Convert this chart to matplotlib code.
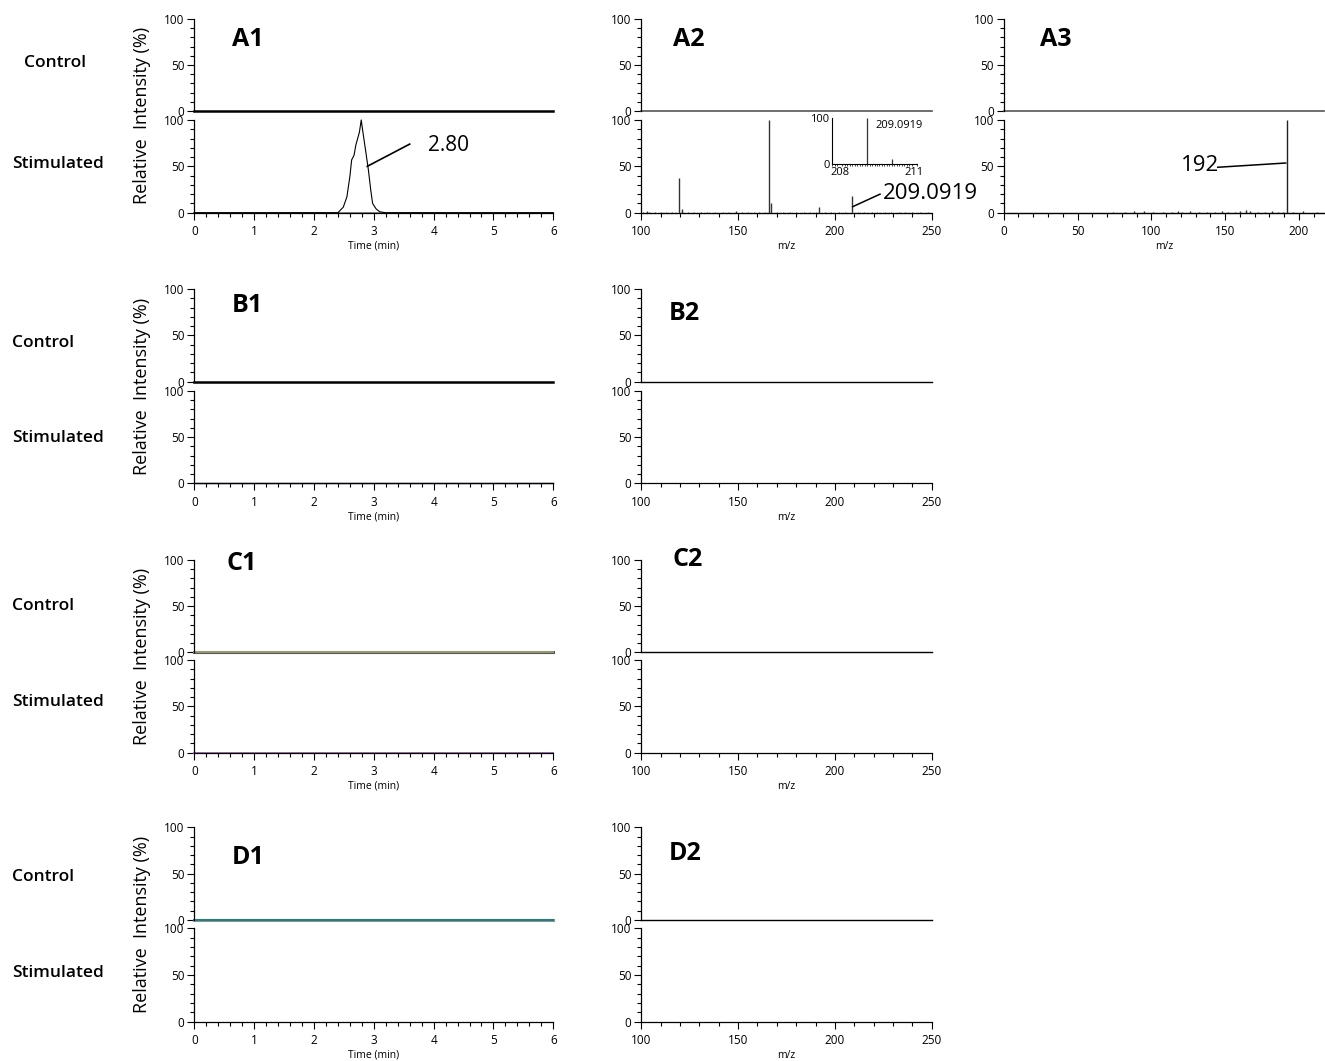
import matplotlib
matplotlib.use("Agg")
import matplotlib.pyplot as plt
from matplotlib.ticker import MultipleLocator

plt.rcParams['font.family'] = ['Open Sans', 'DejaVu Sans']

# ---- data ----
# flat traces (min / %)
flat_time = [0, 6]
flat_int = [0, 0]
flat_mz = [100, 250]
flat_mz3 = [0, 217]

# A1 stimulated chromatogram
a1_time = [0, 2.40, 2.49, 2.55, 2.60, 2.63, 2.67, 2.70, 2.76, 2.79, 2.82, 2.87,
           2.91, 2.95, 2.98, 3.04, 3.10, 3.19, 6.0]
a1_int = [0, 0, 6, 17, 39, 57, 62, 73, 87, 100, 86, 64, 46, 24, 10, 4, 1, 0, 0]

# A2 stimulated spectrum (m/z, %)
a2_mz = [102.8, 119.6, 121.0, 148.9, 166.0, 167.0, 192.0, 209.09]
a2_int = [2, 37, 4, 2, 100, 11, 6.5, 18]
a2_noise_mz = [101, 104, 107, 110, 113, 116, 124, 127, 131, 134, 138, 142, 145,
               152, 155, 158, 161, 164, 170, 173, 177, 180, 184, 187, 190, 195,
               198, 202, 205, 212, 215, 219, 222, 226, 229, 233, 236, 240, 244, 248]
a2_noise_int = [0.8, 1.0, 0.7, 0.9, 0.6, 1.1, 0.8, 0.7, 1.0, 0.6, 0.9, 0.8, 1.2,
                0.7, 0.9, 0.6, 1.0, 0.8, 0.9, 0.7, 1.1, 0.6, 0.8, 1.0, 0.7, 0.9,
                0.6, 0.8, 1.0, 1.2, 0.7, 0.9, 0.6, 0.8, 1.0, 0.7, 0.9, 0.6, 0.8, 0.7]

# A2 inset (zoom around 209)
inset_mz = [209.0919, 210.09, 208.3, 208.6, 209.5, 209.8, 210.4, 210.8]
inset_int = [100, 11, 1, 1, 1, 1, 1, 1]

# A3 stimulated spectrum
a3_mz = [192, 74, 82, 88, 94.8, 101, 108, 114, 118, 121, 126, 132, 138, 143, 148,
         152, 157, 160, 164, 167, 172, 177, 182, 186, 189, 196, 203, 212]
a3_int = [100, 1, 1, 1.5, 2.2, 1, 1.2, 1, 1.5, 1, 1.3, 1, 1.2, 1, 1.4,
          1, 1.2, 1.5, 3, 1.5, 1.2, 1, 1.4, 1, 1.2, 1, 1.5, 1.2]

row_names = ['A', 'B', 'C', 'D']

W, H = 1325, 1061
fig = plt.figure(figsize=(W / 100, H / 100), dpi=100)


def rect(x0, x1, ytop, ybot):
    return [x0 / W, 1 - ybot / H, (x1 - x0) / W, (ybot - ytop) / H]


def style(ax, bottom=True):
    for s in ['top', 'right']:
        ax.spines[s].set_visible(False)
    ax.spines['left'].set_linewidth(0.9)
    ax.spines['bottom'].set_linewidth(0.9)
    ax.set_ylim(0, 100)
    ax.yaxis.set_major_locator(MultipleLocator(50))
    ax.yaxis.set_minor_locator(MultipleLocator(10))
    ax.tick_params(which='major', direction='out', length=5, width=0.8,
                   labelsize=8.5, pad=2)
    ax.tick_params(axis='x', which='major', pad=4)
    ax.tick_params(which='minor', direction='out', length=3, width=0.8)
    if not bottom:
        ax.spines['bottom'].set_visible(False)
        ax.tick_params(axis='x', which='both', bottom=False, labelbottom=False)


# rows: (ctrl top, ctrl bottom, stim top, stim bottom) in px
rows = [(19, 111, 120, 212.7), (289, 381.7, 391, 483.3),
        (560, 652.3, 660, 752.7), (827.3, 920, 928.3, 1021.7)]
col1 = (194.3, 553.3)
col2 = (641.3, 931.7)
col3 = (1003.7, 1324)

axes = {}
for i, (ct, cb, st, sb) in enumerate(rows):
    r = row_names[i]
    # chromatogram column
    c1 = fig.add_axes(rect(col1[0], col1[1], ct, cb))
    s1 = fig.add_axes(rect(col1[0], col1[1], st, sb))
    style(c1, bottom=False)
    style(s1)
    for ax in (c1, s1):
        ax.set_xlim(0, 6)
    s1.xaxis.set_major_locator(MultipleLocator(1))
    s1.xaxis.set_minor_locator(MultipleLocator(0.2))
    s1.set_xlabel('Time (min)', fontsize=7.5, labelpad=2)
    # spectrum column
    c2 = fig.add_axes(rect(col2[0], col2[1], ct, cb))
    s2 = fig.add_axes(rect(col2[0], col2[1], st, sb))
    style(c2, bottom=False)
    style(s2)
    for ax in (c2, s2):
        ax.set_xlim(100, 250)
    s2.xaxis.set_major_locator(MultipleLocator(50))
    s2.xaxis.set_minor_locator(MultipleLocator(10))
    s2.set_xlabel('m/z', fontsize=7.5, labelpad=2)
    axes[r] = (c1, s1, c2, s2)

    # shared y label for the pair
    fig.text(142 / W, 1 - ((ct + sb) / 2) / H, 'Relative  Intensity (%)',
             rotation=90, ha='center', va='center', fontsize=13)

# row label text positions
ctrl_lbl = [(24, 63), (12, 343), (12, 606), (12, 877)]
stim_lbl = [(12, 164), (12, 438), (12, 702), (12, 973)]
for (x, y) in ctrl_lbl:
    fig.text(x / W, 1 - y / H, 'Control', fontsize=12.5, fontweight='semibold',
             ha='left', va='center')
for (x, y) in stim_lbl:
    fig.text(x / W, 1 - y / H, 'Stimulated', fontsize=12.5, fontweight='semibold',
             ha='left', va='center')

# panel labels
panel_lbl = {'A1': (232, 40), 'B1': (232, 305), 'C1': (226, 563), 'D1': (232, 857),
             'A2': (673, 40), 'B2': (669, 313), 'C2': (673, 560), 'D2': (669, 853),
             'A3': (1040, 40)}
for k, (x, y) in panel_lbl.items():
    fig.text(x / W, 1 - y / H, k, fontsize=18, fontweight='bold',
             ha='left', va='center')

# ---- row A ----
c1, s1, c2, s2 = axes['A']
c1.plot(flat_time, flat_int, color='black', lw=1.8, clip_on=False)
s1.plot(a1_time, a1_int, color='black', lw=0.8, clip_on=False)
s1.plot(flat_time, flat_int, color='#777777', lw=1.2, clip_on=False, zorder=1)
s1.plot([2.89, 3.60], [50, 74], color='black', lw=1.2)
s1.text(3.91, 72, '2.80', fontsize=15, va='center', ha='left')

c2.plot(flat_mz, flat_int, color='#555555', lw=1.2, clip_on=False)
s2.vlines(a2_noise_mz, 0, a2_noise_int, color='#555555', lw=0.7)
s2.vlines(a2_mz, 0, a2_int, color='#333333', lw=1.0)
s2.plot(flat_mz, flat_int, color='#888888', lw=1.0, ls=(0, (2, 1)), clip_on=False)
s2.plot([209.2, 223.3], [6.5, 20], color='black', lw=1.1)
s2.text(224.7, 21, '209.0919', fontsize=16, va='center', ha='left')

# inset
ins = fig.add_axes(rect(832.3, 916.7, 118.3, 164.3))
for s in ['top', 'right']:
    ins.spines[s].set_visible(False)
ins.spines['left'].set_linewidth(0.8)
ins.spines['bottom'].set_linewidth(0.8)
ins.set_xlim(207.7, 211.1)
ins.set_ylim(0, 100)
ins.vlines(inset_mz, 0, inset_int, color='#333333', lw=0.9)
ins.set_yticks([0, 100])
ins.set_xticks([208, 211])
ins.xaxis.set_minor_locator(MultipleLocator(0.1))
ins.tick_params(which='major', length=0, labelsize=8, pad=2)
ins.tick_params(axis='x', which='minor', length=1.5, width=0.5)
ins.text(209.45, 85, '209.0919', fontsize=8, va='center', ha='left')

# A3
c3 = fig.add_axes(rect(col3[0], col3[1], rows[0][0], rows[0][1]))
s3 = fig.add_axes(rect(col3[0], col3[1], rows[0][2], rows[0][3]))
style(c3, bottom=False)
style(s3)
for ax in (c3, s3):
    ax.set_xlim(0, 217)
s3.xaxis.set_major_locator(MultipleLocator(50))
s3.xaxis.set_minor_locator(MultipleLocator(10))
s3.set_xlabel('m/z', fontsize=7.5, labelpad=2)
c3.plot(flat_mz3, flat_int, color='#555555', lw=1.2, clip_on=False)
s3.vlines(a3_mz, 0, a3_int, color='#222222', lw=1.0)
s3.plot(flat_mz3, flat_int, color='#888888', lw=1.0, clip_on=False)
s3.plot([191, 145], [53.6, 49], color='black', lw=1.1)
s3.text(146, 51, '192', fontsize=16, va='center', ha='right')

# ---- row B ----
c1, s1, c2, s2 = axes['B']
c1.plot(flat_time, flat_int, color='black', lw=1.8, clip_on=False)
s1.plot(flat_time, flat_int, color='#1a1a40', lw=1.0, clip_on=False)
c2.plot(flat_mz, flat_int, color='black', lw=1.0, clip_on=False)

# ---- row C ----
c1, s1, c2, s2 = axes['C']
c1.plot(flat_time, flat_int, color='#555550', lw=2.2, clip_on=False)
c1.plot(flat_time, [0.6, 0.6], color='#9a9a72', lw=1.4, clip_on=False)
s1.plot(flat_time, flat_int, color='#b070c0', lw=1.4, clip_on=False)
c2.plot(flat_mz, flat_int, color='black', lw=1.0, clip_on=False)

# ---- row D ----
c1, s1, c2, s2 = axes['D']
c1.plot(flat_time, flat_int, color='#909090', lw=2.2, clip_on=False)
c1.plot(flat_time, [0.5, 0.5], color='#1f7f7f', lw=1.4, clip_on=False)
c2.plot(flat_mz, flat_int, color='black', lw=1.0, clip_on=False)

fig.savefig('out.png', dpi=100)
